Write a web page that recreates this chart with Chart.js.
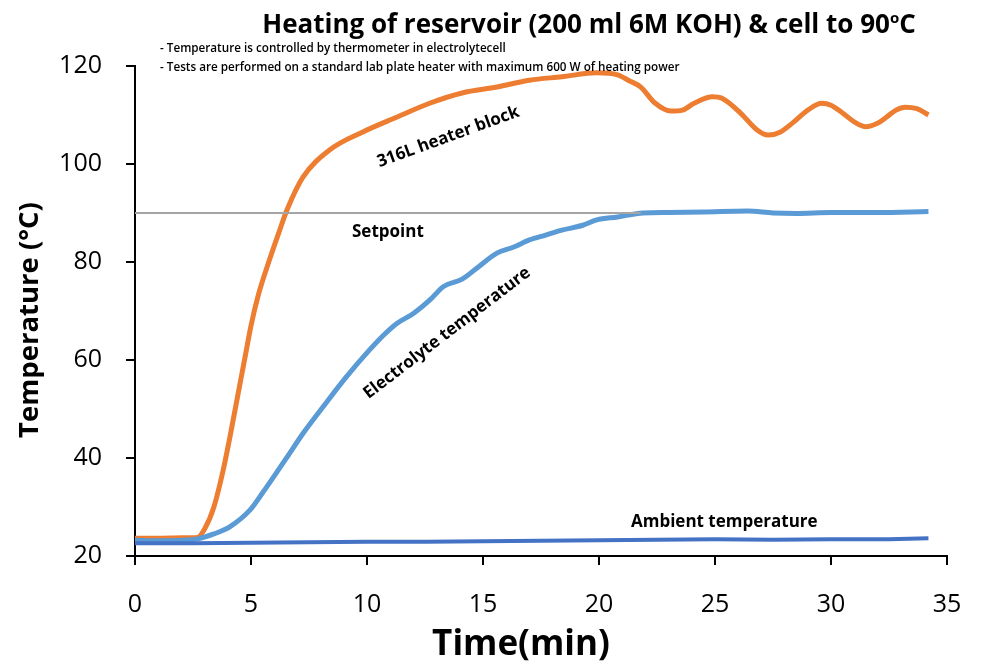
<!DOCTYPE html>
<html>
<head>
<meta charset="utf-8">
<script src="https://cdn.jsdelivr.net/npm/chart.js@4.4.1/dist/chart.umd.min.js"></script>
<style>
  body { margin: 0; background: #fff; }
  #wrap { width: 982px; height: 671px; }
</style>
</head>
<body>
<div id="wrap"><canvas id="heatChart"></canvas></div>
<script>
// time in minutes, temperature in degC
const heaterTime = [0, 1, 2, 2.7, 3.0, 3.4, 3.8, 4.1, 4.4, 4.74, 5.0, 5.3, 5.8, 6.2, 6.55, 7.24, 8.4, 9.8, 11.3, 12.7, 14.1, 15.6, 17.0, 18.4, 19.9, 20.8, 21.3, 21.8, 22.4, 23.1, 23.6, 24.1, 24.9, 25.3, 26.1, 26.8, 27.3, 27.8, 28.4, 29.0, 29.6, 30.0, 30.5, 31.0, 31.5, 32.0, 32.4, 32.8, 33.2, 33.7, 34.2];
const heaterTemp = [23.6, 23.6, 23.7, 23.8, 25.5, 30, 37.5, 44.5, 52, 60.5, 67, 73, 80.5, 86, 90.6, 97.3, 102.9, 106.5, 109.6, 112.4, 114.5, 115.7, 117.1, 117.8, 118.6, 118.2, 117, 115.7, 112.5, 110.8, 111, 112.4, 113.7, 113.4, 110.4, 107, 105.9, 106.5, 108.6, 111, 112.4, 112, 110.4, 108.6, 107.6, 108.3, 109.6, 111, 111.6, 111.3, 110];

const electrolyteTime = [0, 1, 2, 2.7, 3.4, 4.1, 4.96, 5.5, 6.1, 6.6, 7.24, 8.1, 9.1, 10.1, 10.7, 11.3, 12.0, 12.7, 13.3, 14.1, 14.8, 15.6, 16.3, 17.0, 17.7, 18.4, 19.3, 19.9, 20.8, 21.9, 23, 24.5, 26.4, 27.5, 28.5, 30, 32, 34.2];
const electrolyteTemp = [23.2, 23.1, 23.2, 23.5, 24.5, 26, 29.4, 32.9, 37, 40.5, 45, 50.4, 56.5, 62, 65, 67.5, 69.5, 72.2, 75, 76.5, 79, 81.8, 83, 84.5, 85.5, 86.5, 87.5, 88.6, 89.2, 90, 90.1, 90.2, 90.4, 90, 89.9, 90.1, 90.1, 90.3];

const ambientTime = [0, 2.5, 5, 7.5, 10, 12.5, 15, 17.5, 20, 22.5, 25, 27.5, 30, 32.5, 34.2];
const ambientTemp = [22.6, 22.6, 22.7, 22.8, 22.9, 22.9, 23.0, 23.1, 23.2, 23.3, 23.4, 23.3, 23.4, 23.4, 23.6];

const setpointTime = [0, 21.8];
const setpointTemp = [90, 90];

const xTicks = [0, 5, 10, 15, 20, 25, 30, 35];
const yTicks = [20, 40, 60, 80, 100, 120];

const toPoints = (xs, ys) => xs.map((x, i) => ({ x: x, y: ys[i] }));

// text labels placed on the plot, anchored in data units
const curveLabels = [
  { text: '316L heater block', x: 13.5, y: 105.5, angle: -20 },
  { text: 'Setpoint', x: 10.9, y: 86.1, angle: 0 },
  { text: 'Electrolyte temperature', x: 13.45, y: 65.5, angle: -37.4 },
  { text: 'Ambient temperature', x: 25.4, y: 26.9, angle: 0 }
];

const FONT = '"Open Sans", "Liberation Sans", sans-serif';

const textPlugin = {
  id: 'textPlugin',
  afterDraw(chart) {
    const c = chart.ctx;
    const { x, y } = chart.scales;
    c.save();
    c.fillStyle = '#000';

    // title with superscript o
    c.textBaseline = 'alphabetic';
    c.textAlign = 'left';
    const t1 = 'Heating of reservoir (200 ml 6M KOH) & cell to 90';
    c.font = 'bold 26px ' + FONT;
    const w1 = c.measureText(t1).width;
    const w3 = c.measureText('C').width;
    c.font = 'bold 15px ' + FONT;
    const w2 = c.measureText('o').width;
    let sx = 589 - (w1 + w2 + w3) / 2;
    c.font = 'bold 26px ' + FONT;
    c.fillText(t1, sx, 33);
    sx += w1;
    c.font = 'bold 15px ' + FONT;
    c.fillText('o', sx, 23);
    sx += w2;
    c.font = 'bold 26px ' + FONT;
    c.fillText('C', sx, 33);

    // notes
    c.font = '600 11.7px ' + FONT;
    c.fillText('- Temperature is controlled by thermometer in electrolytecell', 160, 52);
    c.fillText('- Tests are performed on a standard lab plate heater with maximum 600 W of heating power', 160, 71);

    // axis titles
    c.textAlign = 'center';
    c.textBaseline = 'middle';
    c.font = 'bold 35px ' + FONT;
    c.fillText('Time(min)', 521, 645);
    c.save();
    c.translate(30, 320);
    c.rotate(-Math.PI / 2);
    c.font = 'bold 27.5px ' + FONT;
    c.fillText('Temperature (°C)', 0, 0);
    c.restore();

    // curve labels
    c.font = 'bold 17px ' + FONT;
    curveLabels.forEach(l => {
      c.save();
      c.translate(x.getPixelForValue(l.x), y.getPixelForValue(l.y));
      c.rotate(l.angle * Math.PI / 180);
      c.fillText(l.text, 0, 0);
      c.restore();
    });
    c.restore();
  }
};

new Chart(document.getElementById('heatChart'), {
  type: 'line',
  data: {
    datasets: [
      {
        label: 'Setpoint',
        data: toPoints(setpointTime, setpointTemp),
        borderColor: '#A5A5A5',
        borderWidth: 2,
        pointRadius: 0
      },
      {
        label: 'Ambient temperature',
        data: toPoints(ambientTime, ambientTemp),
        borderColor: '#4472C4',
        borderWidth: 4,
        pointRadius: 0
      },
      {
        label: 'Electrolyte temperature',
        data: toPoints(electrolyteTime, electrolyteTemp),
        borderColor: '#5B9BD5',
        borderWidth: 5,
        pointRadius: 0,
        cubicInterpolationMode: 'monotone'
      },
      {
        label: '316L heater block',
        data: toPoints(heaterTime, heaterTemp),
        borderColor: '#ED7D31',
        borderWidth: 5,
        pointRadius: 0,
        cubicInterpolationMode: 'monotone'
      }
    ]
  },
  options: {
    responsive: true,
    maintainAspectRatio: false,
    animation: false,
    layout: {
      padding: { top: 66, right: 35, bottom: 0, left: 0 }
    },
    plugins: {
      legend: { display: false },
      tooltip: { enabled: false }
    },
    scales: {
      x: {
        type: 'linear',
        min: 0,
        max: 35,
        afterFit: (s) => { s.height = 115; s.paddingLeft = 0; s.paddingRight = 0; },
        afterBuildTicks: (s) => { s.ticks = xTicks.map(v => ({ value: v })); },
        grid: { display: true, drawOnChartArea: false, drawTicks: true, tickLength: 9, color: '#000', lineWidth: 2 },
        border: { display: true, color: '#000', width: 2 },
        ticks: { color: '#000', font: { family: FONT, size: 25 }, padding: 25, maxRotation: 0 }
      },
      y: {
        min: 20,
        max: 120,
        afterFit: (s) => { s.width = 135; s.paddingTop = 0; s.paddingBottom = 0; },
        afterBuildTicks: (s) => { s.ticks = yTicks.map(v => ({ value: v })); },
        grid: { display: true, drawOnChartArea: false, drawTicks: true, tickLength: 9, color: '#000', lineWidth: 2 },
        border: { display: true, color: '#000', width: 2 },
        ticks: { color: '#000', font: { family: FONT, size: 25 }, padding: 24 }
      }
    }
  },
  plugins: [textPlugin]
});
</script>
</body>
</html>
